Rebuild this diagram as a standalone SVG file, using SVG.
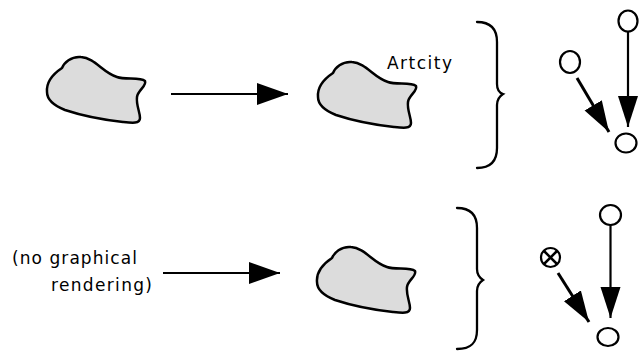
<svg xmlns="http://www.w3.org/2000/svg" width="639" height="351" viewBox="0 0 639 351">
<style>
.blob{fill:#dcdcdc;stroke:#000;stroke-width:2.5;stroke-linejoin:round}
.lbl{font-family:"DejaVu Sans","Liberation Sans",sans-serif;font-size:17px;fill:#000}
.brace{fill:none;stroke:#000;stroke-width:2.3;stroke-linecap:round}
.node{fill:#fff;stroke:#000;stroke-width:2.2}
.conn{fill:none;stroke:#000;stroke-width:2.2}
.thick{stroke-width:3}
</style>
<defs>
<path id="blobShape" d="M47,92 C46,80 56,72 62,68 C64,63 71,56 81,57 C95,58 103,73 117,77 C125,80 140,77 145,81 C147,86 138,90 137,97 C136,105 140,112 140,118 C140,124 132,123 123,122 C105,120 80,115 65,110 C55,106 47,100 47,92 Z"/>
<marker id="bigHead" markerUnits="userSpaceOnUse" markerWidth="34" markerHeight="24" refX="31" refY="11" orient="auto" viewBox="0 0 34 24">
<path d="M0,0 L31,11 L0,22 Z" fill="#000"/>
</marker>
<marker id="gHead" markerUnits="userSpaceOnUse" markerWidth="34" markerHeight="22" refX="31" refY="10" orient="auto" viewBox="0 0 34 22">
<path d="M0,0 L31,10 L0,20 Z" fill="#000"/>
</marker>
</defs>

<g id="blob1"><use href="#blobShape" class="blob"/></g>
<g id="blob2" transform="translate(271,5)"><use href="#blobShape" class="blob"/></g>
<g id="blob3" transform="translate(270,190)"><use href="#blobShape" class="blob"/></g>

<g id="label-artcity"><text class="lbl" x="387" y="69" textLength="65" lengthAdjust="spacing">Artcity</text></g>
<g id="label-nographical">
<text class="lbl" x="12" y="264" textLength="125" lengthAdjust="spacing">(no graphical</text>
<text class="lbl" x="51" y="291" textLength="101" lengthAdjust="spacing">rendering)</text>
</g>

<g id="brace-top"><path class="brace" d="M477,22 C492,22 497,30 497,42 L497,84 C497,90 500,93 503,94 C500,96 497,99 497,105 L497,148 C497,160 492,168 477,168"/></g>
<g id="brace-bottom"><path class="brace" d="M457,208 C472,208 477,216 477,228 L477,269 C477,275 480,278 483,280 C480,282 477,285 477,291 L477,330 C477,342 472,349 457,349"/></g>

<g id="g1-top"><ellipse class="node" cx="628" cy="21" rx="9.5" ry="10.5"/></g>
<g id="g1-left"><ellipse class="node" cx="570" cy="62" rx="10" ry="11"/></g>
<g id="g1-bottom"><ellipse class="node" cx="626" cy="143" rx="10.5" ry="9.5"/></g>

<g id="g2-top"><ellipse class="node" cx="610.5" cy="215" rx="10.5" ry="10"/></g>
<g id="g2-cross">
<circle class="node" cx="550.5" cy="257.5" r="9.5" stroke-width="3"/>
<path d="M544,251 L557,264 M557,251 L544,264" stroke="#000" stroke-width="2.5"/>
</g>
<g id="g2-bottom"><ellipse class="node" cx="608" cy="337" rx="10.5" ry="9"/></g>

<g id="connectors">
<line class="conn" x1="171" y1="94" x2="288" y2="94" marker-end="url(#bigHead)"/>
<line class="conn" x1="163" y1="273" x2="280" y2="273" marker-end="url(#bigHead)"/>
<line class="conn" x1="628" y1="31.5" x2="628" y2="127" marker-end="url(#gHead)"/>
<line class="conn thick" x1="577" y1="78" x2="609" y2="132" marker-end="url(#gHead)"/>
<line class="conn" x1="610.5" y1="225" x2="610.5" y2="318" marker-end="url(#gHead)"/>
<line class="conn thick" x1="558" y1="273" x2="589" y2="322" marker-end="url(#gHead)"/>
</g>
</svg>
